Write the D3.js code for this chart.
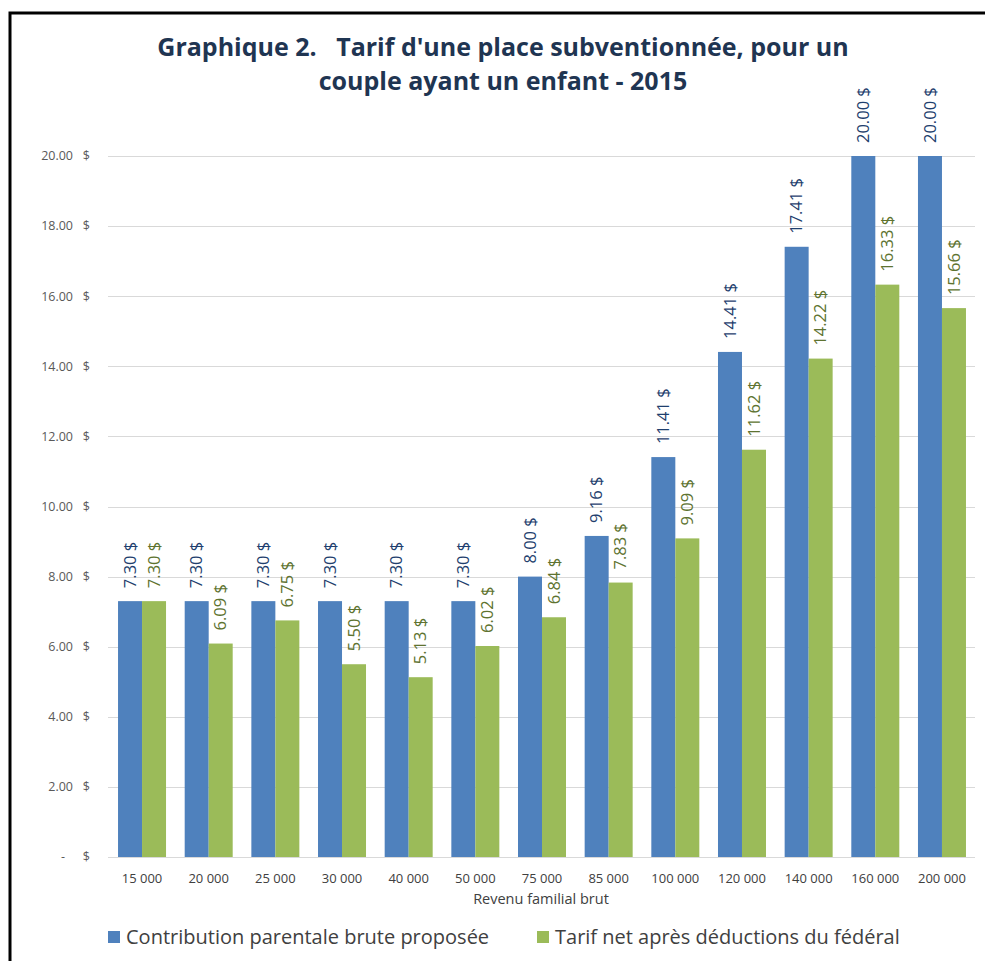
<!DOCTYPE html>
<html>
<head>
<meta charset="utf-8">
<script src="https://cdn.jsdelivr.net/npm/d3@7"></script>
<style>
  body { margin: 0; background: #fff; }
  text { font-family: "Open Sans", sans-serif; }
</style>
</head>
<body>
<div id="chart"></div>
<script>
var width = 985;
var height = 961;

// data
var revenus = ["15 000", "20 000", "25 000", "30 000", "40 000", "50 000", "75 000",
    "85 000", "100 000", "120 000", "140 000", "160 000", "200 000"];
var contribution = [7.30, 7.30, 7.30, 7.30, 7.30, 7.30, 8.00, 9.16, 11.41, 14.41, 17.41, 20.00, 20.00];
var tarifNet = [7.30, 6.09, 6.75, 5.50, 5.13, 6.02, 6.84, 7.83, 9.09, 11.62, 14.22, 16.33, 15.66];
var seriesNames = ["Contribution parentale brute proposée", "Tarif net après déductions du fédéral"];
var yTicks = [0, 2, 4, 6, 8, 10, 12, 14, 16, 18, 20];

var barColors = ["#4F81BD", "#9BBB59"];
var labelColors = ["#1F3F6E", "#5E7330"];

var svg = d3.select("#chart").append("svg")
    .attr("width", width)
    .attr("height", height);

// frame (left + top edges visible)
svg.append("rect")
    .attr("x", 10)
    .attr("y", 13)
    .attr("width", 1000)
    .attr("height", 1000)
    .attr("fill", "none")
    .attr("stroke", "#000")
    .attr("stroke-width", 3);

// title
var title = svg.append("text")
    .attr("text-anchor", "middle")
    .attr("fill", "#1F3552")
    .style("font-size", "25px")
    .style("font-weight", "bold");
title.append("tspan").attr("x", 503).attr("y", 56)
    .attr("xml:space", "preserve")
    .text("Graphique 2.   Tarif d'une place subventionnée, pour un");
title.append("tspan").attr("x", 503).attr("y", 90)
    .text("couple ayant un enfant - 2015");

var x0 = d3.scaleBand()
    .domain(revenus)
    .range([108.7, 975.3])
    .paddingInner(0.28)
    .paddingOuter(0.14);

var x1 = d3.scaleBand()
    .domain([0, 1])
    .range([0, x0.bandwidth()]);

var y = d3.scaleLinear()
    .domain([0, 20])
    .range([857, 156]);

// gridlines
svg.append("g")
    .selectAll("line")
    .data(yTicks)
    .enter().append("line")
    .attr("x1", 108)
    .attr("x2", 975)
    .attr("y1", function (d) { return Math.round(y(d)) + 0.5; })
    .attr("y2", function (d) { return Math.round(y(d)) + 0.5; })
    .attr("stroke", "#D9D9D9")
    .attr("stroke-width", 1);

// y tick labels (accounting style: number then $)
var yl = svg.append("g")
    .style("font-size", "12.5px")
    .attr("fill", "#595959");
yl.selectAll("text.num")
    .data(yTicks)
    .enter().append("text")
    .attr("class", "num")
    .attr("x", function (d) { return d === 0 ? 65 : 73; })
    .attr("y", function (d) { return y(d); })
    .attr("dy", "0.35em")
    .attr("text-anchor", "end")
    .text(function (d) { return d === 0 ? "-" : d3.format(".2f")(d); });
yl.selectAll("text.cur")
    .data(yTicks)
    .enter().append("text")
    .attr("class", "cur")
    .attr("x", 90)
    .attr("y", function (d) { return y(d); })
    .attr("dy", "0.35em")
    .attr("text-anchor", "end")
    .text("$");

var rows = revenus.map(function (r, i) {
    return { revenu: r, values: [contribution[i], tarifNet[i]] };
});

var groups = svg.append("g")
    .selectAll("g")
    .data(rows)
    .enter().append("g")
    .attr("transform", function (d) { return "translate(" + x0(d.revenu) + ",0)"; });

groups.selectAll("rect")
    .data(function (d) { return d.values; })
    .enter().append("rect")
    .attr("x", function (d, i) { return x1(i); })
    .attr("width", x1.bandwidth())
    .attr("y", function (d) { return y(d); })
    .attr("height", function (d) { return y(0) - y(d); })
    .attr("fill", function (d, i) { return barColors[i]; });

// rotated value labels
groups.selectAll("text")
    .data(function (d) { return d.values; })
    .enter().append("text")
    .attr("transform", function (d, i) {
        return "translate(" + (x1(i) + x1.bandwidth() / 2) + "," + (y(d) - 13) + ") rotate(-90)";
    })
    .attr("dy", "0.35em")
    .attr("fill", function (d, i) { return labelColors[i]; })
    .style("font-size", "16.5px")
    .text(function (d) { return d3.format(".2f")(d) + " $"; });

// x axis labels
svg.append("g")
    .selectAll("text")
    .data(revenus)
    .enter().append("text")
    .attr("x", function (d) { return x0(d) + x0.bandwidth() / 2; })
    .attr("y", 883)
    .attr("text-anchor", "middle")
    .attr("fill", "#404040")
    .style("font-size", "13px")
    .text(function (d) { return d; });

svg.append("text")
    .attr("x", 541)
    .attr("y", 904)
    .attr("text-anchor", "middle")
    .attr("fill", "#404040")
    .style("font-size", "14.5px")
    .text("Revenu familial brut");

// legend
var legendX = [108, 537];
var legend = svg.append("g")
    .selectAll("g")
    .data(seriesNames)
    .enter().append("g")
    .attr("transform", function (d, i) { return "translate(" + legendX[i] + ",931)"; });

legend.append("rect")
    .attr("width", 12)
    .attr("height", 12)
    .attr("fill", function (d, i) { return barColors[i]; });

legend.append("text")
    .attr("x", 18)
    .attr("y", 13)
    .attr("fill", "#404040")
    .style("font-size", "20px")
    .text(function (d) { return d; });
</script>
</body>
</html>
